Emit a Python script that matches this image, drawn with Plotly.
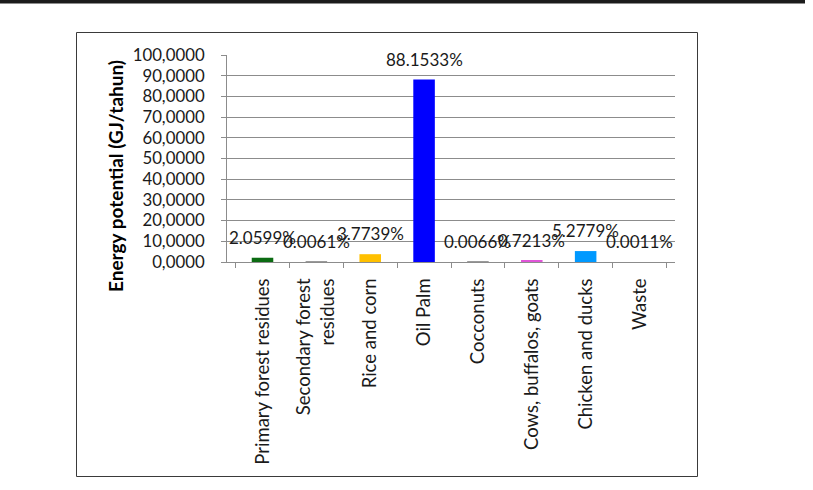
import plotly.graph_objects as go

categories = ["Primary forest residues", "Secondary forest<br>residues", "Rice and corn",
              "Oil Palm", "Cocconuts", "Cows, buffalos, goats", "Chicken and ducks", "Waste"]
values = [2.0599, 0.0061, 3.7739, 88.1533, 0.0066, 0.7213, 5.2779, 0.0011]
labels = ["2.0599%", "0.0061%", "3.7739%", "88.1533%", "0.0066%", "0.7213%", "5.2779%", "0.0011%"]
colors = ["#0B6B12", "#9a9a9a", "#FFC000", "#0000FF", "#9a9a9a", "#E055D8", "#0099FF", "#9a9a9a"]
y_ticks = [0, 10, 20, 30, 40, 50, 60, 70, 80, 90, 100]
y_title = "Energy potential (GJ/tahun)"

W, H = 813, 490
L, R, T, B = 227, 138, 55, 228
pw, ph = W - L - R, H - T - B

def px(x):
    return (x - L) / pw

def py(y):
    return (H - B - y) / ph

FONT = "Lato, Calibri, Carlito, sans-serif"

fig = go.Figure()
fig.add_trace(go.Bar(
    x=categories, y=values, marker=dict(color=colors, line=dict(width=0)),
    width=0.4, hoverinfo="x+y",
))

for c, v, t in zip(categories, values, labels):
    fig.add_annotation(x=c, y=v, text=t, showarrow=False, yanchor="bottom",
                       xanchor="center", yshift=8,
                       font=dict(family=FONT, size=17, color="#1a1a1a"))

# y-axis title (placed like the Excel original, centred slightly below the plot centre)
fig.add_annotation(xref="paper", yref="paper", x=px(115), y=py(176), text="<b>" + y_title + "</b>",
                   textangle=-90, showarrow=False, xanchor="center", yanchor="middle",
                   font=dict(family=FONT, size=19, color="#000000"))

fig.add_shape(type="rect", xref="paper", yref="paper",
              x0=px(76.5), x1=px(697.5), y0=py(476.5), y1=py(32.5),
              line=dict(color="#3a3a3a", width=1), fillcolor="rgba(0,0,0,0)", layer="below")
fig.add_shape(type="rect", xref="paper", yref="paper",
              x0=px(0), x1=px(805), y0=py(3.5), y1=py(0),
              line=dict(width=0), fillcolor="#1c1c1c")

fig.update_layout(
    width=W, height=H,
    margin=dict(l=L, r=R, t=T, b=B, pad=0),
    plot_bgcolor="white", paper_bgcolor="white",
    separators=",.",
    showlegend=False,
    bargap=0.6,
    font=dict(family=FONT, size=16.5, color="#1a1a1a"),
    xaxis=dict(
        type="category", tickangle=-90, ticks="outside", tickson="boundaries",
        ticklen=5, tickcolor="#8c8c8c", showline=True, linecolor="#8c8c8c",
        linewidth=1, showgrid=False, ticklabelstandoff=8,
        tickfont=dict(family=FONT, size=18.5, color="#1a1a1a"),
    ),
    yaxis=dict(
        range=[0, 100], tickvals=y_ticks, tickformat=".4f", ticks="outside",
        ticklen=5, tickcolor="#8c8c8c", showline=True, linecolor="#8c8c8c",
        linewidth=1, showgrid=True, gridcolor="#8c8c8c", gridwidth=1, zeroline=False,
        ticklabelstandoff=13,
        tickfont=dict(family=FONT, size=16.8, color="#1a1a1a"),
    ),
)

fig.write_html("out.html")
